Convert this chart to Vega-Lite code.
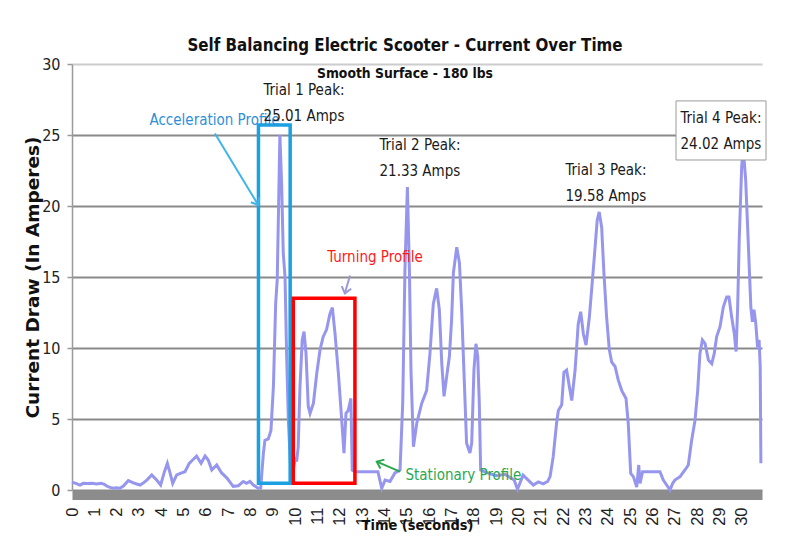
{
  "$schema": "https://vega.github.io/schema/vega-lite/v6.json",
  "width": 690,
  "height": 426,
  "autosize": {"type": "none"},
  "padding": {"left": 72, "top": 64, "right": 34, "bottom": 52},
  "background": "white",
  "config": {"view": {"stroke": null}},
  "title": {
    "text": "Self Balancing Electric Scooter - Current Over Time",
    "subtitle": "Smooth Surface - 180 lbs",
    "font": "DejaVu Sans Condensed, sans-serif",
    "fontSize": 16.8,
    "fontWeight": "bold",
    "color": "#111111",
    "subtitleFont": "DejaVu Sans Condensed, sans-serif",
    "subtitleFontSize": 13.8,
    "subtitleFontWeight": "bold",
    "subtitleColor": "#111111",
    "subtitlePadding": 12,
    "offset": -25,
    "dx": -12,
    "anchor": "middle"
  },
  "datasets": {
    "current": [
      {"t": 0.0, "v": 0.55}, {"t": 0.2, "v": 0.45}, {"t": 0.36, "v": 0.35}, {"t": 0.5, "v": 0.47}, {"t": 0.7, "v": 0.45},
      {"t": 0.9, "v": 0.47}, {"t": 1.1, "v": 0.42}, {"t": 1.3, "v": 0.47}, {"t": 1.45, "v": 0.4}, {"t": 1.55, "v": 0.28},
      {"t": 1.7, "v": 0.18}, {"t": 1.85, "v": 0.12}, {"t": 2.0, "v": 0.15}, {"t": 2.15, "v": 0.12}, {"t": 2.3, "v": 0.28},
      {"t": 2.52, "v": 0.66}, {"t": 2.75, "v": 0.5}, {"t": 2.9, "v": 0.42}, {"t": 3.05, "v": 0.35}, {"t": 3.2, "v": 0.5},
      {"t": 3.35, "v": 0.7}, {"t": 3.57, "v": 1.06}, {"t": 3.79, "v": 0.7}, {"t": 3.97, "v": 0.35}, {"t": 4.14, "v": 1.29},
      {"t": 4.27, "v": 1.88}, {"t": 4.39, "v": 1.2}, {"t": 4.51, "v": 0.47}, {"t": 4.69, "v": 1.06}, {"t": 4.91, "v": 1.2},
      {"t": 5.06, "v": 1.29}, {"t": 5.25, "v": 1.88}, {"t": 5.4, "v": 2.11}, {"t": 5.58, "v": 2.39}, {"t": 5.78, "v": 1.88},
      {"t": 5.96, "v": 2.39}, {"t": 6.1, "v": 2.11}, {"t": 6.26, "v": 1.41}, {"t": 6.48, "v": 1.76}, {"t": 6.7, "v": 1.2},
      {"t": 6.93, "v": 0.86}, {"t": 7.1, "v": 0.5}, {"t": 7.22, "v": 0.26}, {"t": 7.45, "v": 0.3}, {"t": 7.67, "v": 0.6},
      {"t": 7.82, "v": 0.47}, {"t": 7.97, "v": 0.6}, {"t": 8.12, "v": 0.35}, {"t": 8.34, "v": 0.12}, {"t": 8.45, "v": 0.13},
      {"t": 8.57, "v": 2.58}, {"t": 8.64, "v": 3.5}, {"t": 8.79, "v": 3.6}, {"t": 8.91, "v": 4.2}, {"t": 9.02, "v": 7.3},
      {"t": 9.12, "v": 13.1}, {"t": 9.19, "v": 14.8}, {"t": 9.24, "v": 19.0}, {"t": 9.31, "v": 25.01}, {"t": 9.39, "v": 21.4},
      {"t": 9.46, "v": 16.7}, {"t": 9.54, "v": 15.0}, {"t": 9.61, "v": 9.6}, {"t": 9.69, "v": 4.9}, {"t": 9.8, "v": 1.2},
      {"t": 9.92, "v": 1.5}, {"t": 10.0, "v": 2.3}, {"t": 10.06, "v": 2.0}, {"t": 10.13, "v": 3.05}, {"t": 10.21, "v": 7.3},
      {"t": 10.31, "v": 10.56}, {"t": 10.39, "v": 11.15}, {"t": 10.48, "v": 9.6}, {"t": 10.58, "v": 5.9}, {"t": 10.66, "v": 5.4},
      {"t": 10.81, "v": 6.1}, {"t": 10.96, "v": 8.2}, {"t": 11.11, "v": 9.9}, {"t": 11.25, "v": 10.8}, {"t": 11.4, "v": 11.3},
      {"t": 11.55, "v": 12.4}, {"t": 11.66, "v": 12.85}, {"t": 11.78, "v": 11.0}, {"t": 11.93, "v": 8.2}, {"t": 12.08, "v": 4.9},
      {"t": 12.18, "v": 2.6}, {"t": 12.27, "v": 5.4}, {"t": 12.37, "v": 5.6}, {"t": 12.49, "v": 6.45}, {"t": 12.55, "v": 1.4},
      {"t": 12.67, "v": 1.29}, {"t": 13.0, "v": 1.29}, {"t": 13.4, "v": 1.29}, {"t": 13.7, "v": 1.29}, {"t": 13.87, "v": 0.12},
      {"t": 14.02, "v": 0.7}, {"t": 14.24, "v": 0.6}, {"t": 14.46, "v": 1.2}, {"t": 14.69, "v": 1.4}, {"t": 14.81, "v": 6.1},
      {"t": 14.91, "v": 15.5}, {"t": 15.02, "v": 21.33}, {"t": 15.11, "v": 15.5}, {"t": 15.18, "v": 8.45}, {"t": 15.29, "v": 3.05},
      {"t": 15.44, "v": 4.7}, {"t": 15.66, "v": 6.1}, {"t": 15.88, "v": 7.0}, {"t": 16.03, "v": 9.6}, {"t": 16.18, "v": 13.1},
      {"t": 16.33, "v": 14.2}, {"t": 16.45, "v": 12.7}, {"t": 16.56, "v": 8.9}, {"t": 16.66, "v": 6.6}, {"t": 16.78, "v": 8.0},
      {"t": 16.9, "v": 9.4}, {"t": 17.0, "v": 12.0}, {"t": 17.08, "v": 15.3}, {"t": 17.23, "v": 17.1}, {"t": 17.35, "v": 16.0},
      {"t": 17.45, "v": 12.7}, {"t": 17.55, "v": 8.45}, {"t": 17.67, "v": 3.3}, {"t": 17.82, "v": 2.6}, {"t": 17.9, "v": 3.3},
      {"t": 18.0, "v": 8.45}, {"t": 18.09, "v": 10.3}, {"t": 18.17, "v": 9.4}, {"t": 18.24, "v": 6.1}, {"t": 18.3, "v": 1.4},
      {"t": 18.6, "v": 1.2}, {"t": 19.0, "v": 1.0}, {"t": 19.4, "v": 1.1}, {"t": 19.8, "v": 0.7}, {"t": 19.95, "v": 0.05},
      {"t": 20.2, "v": 1.05}, {"t": 20.43, "v": 0.7}, {"t": 20.66, "v": 0.35}, {"t": 20.88, "v": 0.57}, {"t": 21.1, "v": 0.43},
      {"t": 21.3, "v": 0.6}, {"t": 21.41, "v": 0.94}, {"t": 21.55, "v": 2.35}, {"t": 21.7, "v": 4.7}, {"t": 21.78, "v": 5.6},
      {"t": 21.93, "v": 6.0}, {"t": 22.03, "v": 8.3}, {"t": 22.15, "v": 8.45}, {"t": 22.27, "v": 7.3}, {"t": 22.38, "v": 6.3},
      {"t": 22.53, "v": 8.45}, {"t": 22.67, "v": 11.7}, {"t": 22.78, "v": 12.55}, {"t": 22.9, "v": 11.0}, {"t": 23.02, "v": 10.2},
      {"t": 23.17, "v": 12.2}, {"t": 23.27, "v": 14.1}, {"t": 23.39, "v": 16.4}, {"t": 23.52, "v": 19.0}, {"t": 23.61, "v": 19.58},
      {"t": 23.72, "v": 18.5}, {"t": 23.82, "v": 15.3}, {"t": 23.94, "v": 12.2}, {"t": 24.06, "v": 9.9}, {"t": 24.17, "v": 9.0},
      {"t": 24.32, "v": 8.7}, {"t": 24.46, "v": 7.75}, {"t": 24.62, "v": 7.0}, {"t": 24.81, "v": 6.45}, {"t": 24.91, "v": 4.7},
      {"t": 25.02, "v": 1.17}, {"t": 25.14, "v": 0.94}, {"t": 25.29, "v": 0.2}, {"t": 25.38, "v": 1.76}, {"t": 25.44, "v": 0.47},
      {"t": 25.55, "v": 1.29}, {"t": 26.0, "v": 1.29}, {"t": 26.33, "v": 1.29}, {"t": 26.48, "v": 0.7}, {"t": 26.63, "v": 0.35},
      {"t": 26.78, "v": 0.0}, {"t": 26.9, "v": 0.47}, {"t": 27.0, "v": 0.7}, {"t": 27.23, "v": 0.94}, {"t": 27.45, "v": 1.41},
      {"t": 27.6, "v": 1.76}, {"t": 27.75, "v": 3.5}, {"t": 27.9, "v": 4.9}, {"t": 28.02, "v": 7.0}, {"t": 28.12, "v": 9.6},
      {"t": 28.23, "v": 10.56}, {"t": 28.35, "v": 10.3}, {"t": 28.5, "v": 9.15}, {"t": 28.65, "v": 8.9}, {"t": 28.76, "v": 9.6},
      {"t": 28.87, "v": 10.8}, {"t": 29.02, "v": 11.5}, {"t": 29.17, "v": 12.9}, {"t": 29.32, "v": 13.6}, {"t": 29.42, "v": 13.6},
      {"t": 29.54, "v": 12.2}, {"t": 29.66, "v": 11.0}, {"t": 29.74, "v": 9.75}, {"t": 29.81, "v": 12.9}, {"t": 29.88, "v": 17.6},
      {"t": 29.99, "v": 22.8}, {"t": 30.06, "v": 24.02}, {"t": 30.17, "v": 21.8}, {"t": 30.28, "v": 17.6}, {"t": 30.4, "v": 12.9},
      {"t": 30.47, "v": 11.85}, {"t": 30.54, "v": 12.7}, {"t": 30.62, "v": 11.75}, {"t": 30.69, "v": 10.3}, {"t": 30.77, "v": 10.56},
      {"t": 30.82, "v": 8.7}, {"t": 30.85, "v": 1.88}
    ],
    "boxes": [
      {"profile": "Acceleration", "t": 8.35, "t2": 9.77, "v": 0.47, "v2": 25.7},
      {"profile": "Turning", "t": 9.91, "t2": 12.67, "v": 0.47, "v2": 13.5}
    ],
    "arrows": [
      {"profile": "Acceleration", "t": 6.4, "v": 25.1, "t2": 8.34, "v2": 20.07, "heading": 59},
      {"profile": "Turning", "t": 12.45, "v": 15.1, "t2": 12.22, "v2": 13.85, "heading": 105},
      {"profile": "Stationary", "t": 14.69, "v": 1.29, "t2": 13.65, "v2": 2.0, "heading": 204}
    ],
    "peakbox": [
      {"t": 27.05, "t2": 31.08, "v": 23.24, "v2": 27.4}
    ],
    "labels": [
      {"label": "Acceleration Profile", "profile": "Acceleration", "t": 6.38, "v": 26.06},
      {"label": "Turning Profile", "profile": "Turning", "t": 13.57, "v": 16.4},
      {"label": "Stationary Profile", "profile": "Stationary", "t": 17.53, "v": 1.06},
      {"label": "Trial 1 Peak:\n25.01 Amps", "profile": "Peak", "t": 10.39, "v": 28.17},
      {"label": "Trial 2 Peak:\n21.33 Amps", "profile": "Peak", "t": 15.58, "v": 24.3},
      {"label": "Trial 3 Peak:\n19.58 Amps", "profile": "Peak", "t": 23.91, "v": 22.54},
      {"label": "Trial 4 Peak:\n24.02 Amps", "profile": "Peak", "t": 29.06, "v": 26.2}
    ]
  },
  "encoding": {
    "x": {
      "field": "t",
      "type": "quantitative",
      "scale": {"domain": [0, 30.9], "nice": false, "zero": false},
      "axis": {
        "values": [0,1,2,3,4,5,6,7,8,9,10,11,12,13,14,15,16,17,18,19,20,21,22,23,24,25,26,27,28,29,30],
        "labelAngle": 270,
        "labelFont": "Liberation Sans, Arial, sans-serif",
        "labelFontSize": 16.5,
        "labelColor": "#222222",
        "labelOverlap": false,
        "labelFlush": false,
        "labelPadding": 12,
        "ticks": false,
        "grid": false,
        "domainColor": "#8c8c8c",
        "domainWidth": 9,
        "offset": 5,
        "title": "Time (seconds)",
        "titleFont": "DejaVu Sans Condensed, sans-serif",
        "titleFontSize": 14.5,
        "titleFontWeight": "bold",
        "titleColor": "#111111",
        "titleY": 30,
        "titleBaseline": "middle"
      }
    },
    "y": {
      "field": "v",
      "type": "quantitative",
      "scale": {"domain": [0, 30], "nice": false},
      "axis": {
        "values": [0, 5, 10, 15, 20, 25, 30],
        "labelFont": "DejaVu Sans Condensed, sans-serif",
        "labelFontSize": 16,
        "labelColor": "#222222",
        "labelPadding": 7,
        "tickSize": 5,
        "tickColor": "#9a9a9a",
        "tickWidth": 1.5,
        "domainColor": "#9a9a9a",
        "domainWidth": 1.5,
        "grid": true,
        "gridColor": {"condition": {"test": "datum.value === 30", "value": "#cccccc"}, "value": "#8a8a8a"},
        "gridWidth": 1.8,
        "title": "Current Draw (In Amperes)",
        "titleFont": "DejaVu Sans, sans-serif",
        "titleFontSize": 18.5,
        "titleFontWeight": "bold",
        "titleColor": "#111111",
        "titleX": -40,
        "titleBaseline": "middle"
      }
    }
  },
  "layer": [
    {
      "data": {"name": "current"},
      "mark": {"type": "line", "color": "#9696ee", "strokeWidth": 3}
    },
    {
      "data": {"name": "boxes"},
      "mark": {"type": "rect", "fillOpacity": 0, "strokeWidth": 3.5},
      "encoding": {
        "x2": {"field": "t2"},
        "y2": {"field": "v2"},
        "stroke": {
          "field": "profile",
          "type": "nominal",
          "scale": {"domain": ["Acceleration", "Turning"], "range": ["#1ba1e2", "#ff0000"]},
          "legend": null
        }
      }
    },
    {
      "data": {"name": "arrows"},
      "mark": {"type": "rule", "strokeWidth": 2},
      "encoding": {
        "x2": {"field": "t2"},
        "y2": {"field": "v2"},
        "stroke": {
          "field": "profile",
          "type": "nominal",
          "scale": {"domain": ["Acceleration", "Turning", "Stationary"], "range": ["#3db5e8", "#9a9ad6", "#2aa84e"]},
          "legend": null
        }
      }
    },
    {
      "data": {"name": "arrows"},
      "mark": {"type": "point", "shape": "M-1,-0.8L0,0L-1,0.8", "filled": false, "size": 150, "strokeWidth": 2, "opacity": 1},
      "encoding": {
        "x": {"field": "t2", "type": "quantitative"},
        "y": {"field": "v2", "type": "quantitative"},
        "angle": {"field": "heading", "type": "quantitative", "scale": null},
        "stroke": {
          "field": "profile",
          "type": "nominal",
          "scale": {"domain": ["Acceleration", "Turning", "Stationary"], "range": ["#3db5e8", "#9a9ad6", "#2aa84e"]},
          "legend": null
        }
      }
    },
    {
      "data": {"name": "peakbox"},
      "mark": {"type": "rect", "fill": "white", "stroke": "#9a9a9a", "strokeWidth": 1},
      "encoding": {
        "x2": {"field": "t2"},
        "y2": {"field": "v2"}
      }
    },
    {
      "data": {"name": "labels"},
      "mark": {
        "type": "text",
        "font": "DejaVu Sans Condensed, sans-serif",
        "fontSize": 15,
        "lineBreak": "\n",
        "lineHeight": 26,
        "align": "center",
        "baseline": "middle"
      },
      "encoding": {
        "text": {"field": "label"},
        "color": {
          "field": "profile",
          "type": "nominal",
          "scale": {"domain": ["Acceleration", "Turning", "Stationary", "Peak"], "range": ["#2f8fd8", "#ff1a1a", "#2aa84e", "#1a1a1a"]},
          "legend": null
        }
      }
    }
  ],
  "resolve": {"scale": {"stroke": "independent"}}
}
